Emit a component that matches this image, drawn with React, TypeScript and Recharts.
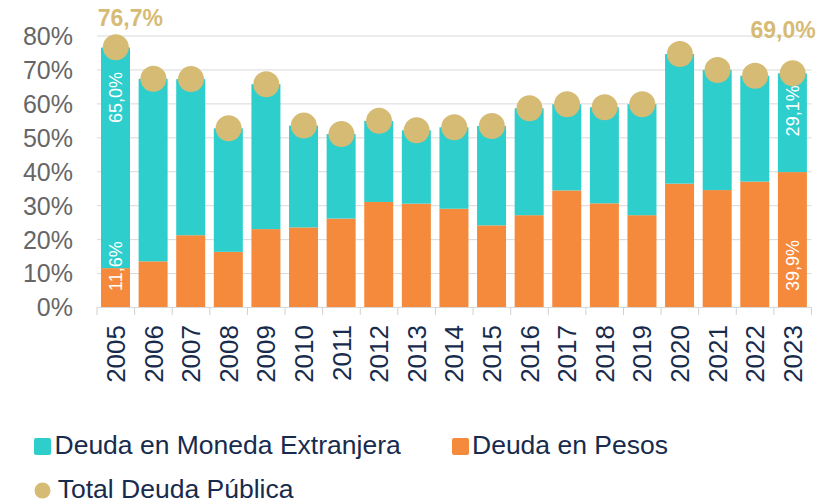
import React from 'react';
import { ComposedChart, Bar, Scatter, XAxis, YAxis, CartesianGrid } from 'recharts';

const years = ['2005','2006','2007','2008','2009','2010','2011','2012','2013','2014','2015','2016','2017','2018','2019','2020','2021','2022','2023'];
const pesos = [11.6, 13.6, 21.3, 16.4, 23.1, 23.6, 26.2, 31.1, 30.6, 29.1, 24.2, 27.2, 34.5, 30.7, 27.2, 36.5, 34.6, 37.1, 39.9];
const foreign = [65.0, 53.8, 46.0, 36.4, 42.7, 30.0, 24.9, 23.9, 21.6, 24.0, 29.3, 31.5, 25.4, 28.3, 32.7, 38.2, 35.4, 31.2, 29.1];
const total = [76.7, 67.4, 67.3, 52.8, 65.8, 53.6, 51.1, 55.0, 52.2, 53.1, 53.5, 58.7, 59.9, 59.0, 59.9, 74.7, 70.0, 68.3, 69.0];
const yTicks = [0, 10, 20, 30, 40, 50, 60, 70, 80];

const seriesNames = {
  foreign: 'Deuda en Moneda Extranjera',
  pesos: 'Deuda en Pesos',
  total: 'Total Deuda Pública',
};

const data = years.map((year, i) => ({ year, pesos: pesos[i], foreign: foreign[i], total: total[i] }));

const TEAL = '#2ECECD';
const ORANGE = '#F58A3C';
const GOLD = '#D6BB74';
const NAVY = '#172B4D';
const GRAY = '#666666';
const FONT = '"Liberation Sans", Arial, sans-serif';

const W = 823;
const H = 408;
const M = { top: 36, right: 19.5, left: 0, bottom: 0 };
const Y_W = 89;
const X_H = 100.5;
const PLOT_BOTTOM = H - M.bottom - X_H;
const BAND = (W - M.left - M.right - Y_W) / years.length;

const fmt = (v: number) => v.toFixed(1).replace('.', ',') + '%';
const isEdge = (year: string) => year === years[0] || year === years[years.length - 1];

const XTick = (props: any) => {
  const { x, payload, index } = props;
  const last = index === years.length - 1;
  return (
    <g>
      <line x1={x - BAND / 2} x2={x - BAND / 2} y1={PLOT_BOTTOM} y2={PLOT_BOTTOM + 7.5} stroke="#d0d0d0" />
      {last && <line x1={x + BAND / 2} x2={x + BAND / 2} y1={PLOT_BOTTOM} y2={PLOT_BOTTOM + 7.5} stroke="#d0d0d0" />}
      <text
        transform={`translate(${x},${PLOT_BOTTOM + 17.5}) rotate(-90)`}
        textAnchor="end"
        dy="0.35em"
        fontSize={26}
        fontFamily={FONT}
        fill={NAVY}
      >
        {payload.value}
      </text>
    </g>
  );
};

const PesosShape = (props: any) => {
  const { x, y, width, height } = props;
  return <rect x={x} y={y} width={width} height={height} fill={ORANGE} />;
};

const ForeignShape = (props: any) => {
  const { x, y, width, height, payload } = props;
  const cx = x + width / 2;
  const off = payload.year === years[0] ? 24.5 : 12;
  return (
    <g>
      <rect x={x} y={y} width={width} height={height} fill={TEAL} />
      {isEdge(payload.year) && (
        <>
          <text
            transform={`translate(${cx},${y + off}) rotate(-90)`}
            textAnchor="end"
            dy="0.35em"
            fontSize={18}
            fontFamily={FONT}
            fill="#ffffff"
          >
            {fmt(payload.foreign)}
          </text>
          <text
            transform={`translate(${cx},${PLOT_BOTTOM - 16.5}) rotate(-90)`}
            textAnchor="start"
            dy="0.35em"
            fontSize={18}
            fontFamily={FONT}
            fill="#ffffff"
          >
            {fmt(payload.pesos)}
          </text>
        </>
      )}
    </g>
  );
};

const DotShape = (props: any) => {
  const { cx, cy, payload } = props;
  const first = payload.year === years[0];
  const last = payload.year === years[years.length - 1];
  return (
    <g>
      <circle cx={cx} cy={cy} r={13} fill={GOLD} />
      {first && (
        <text x={cx + 14.5} y={cy - 20.7} textAnchor="middle" fontSize={23} fontWeight="bold" fontFamily={FONT} fill={GOLD}>
          {fmt(payload.total)}
        </text>
      )}
      {last && (
        <text x={cx - 9.6} y={cy - 35} textAnchor="middle" fontSize={23} fontWeight="bold" fontFamily={FONT} fill={GOLD}>
          {fmt(payload.total)}
        </text>
      )}
    </g>
  );
};

export default function App() {
  return (
    <div style={{ position: 'relative', width: W, height: 504, marginTop: -8, fontFamily: FONT }}>
      <ComposedChart width={W} height={H} data={data} margin={M}>
        <CartesianGrid vertical={false} stroke="#d9d9d9" />
        <XAxis
          dataKey="year"
          height={X_H}
          interval={0}
          tickLine={false}
          axisLine={{ stroke: '#d9d9d9' }}
          tick={<XTick />}
        />
        <YAxis
          width={Y_W}
          domain={[0, 80]}
          ticks={yTicks}
          tickFormatter={(v: number) => `${v}%`}
          axisLine={false}
          tickLine={false}
          tickMargin={18}
          tick={{ fill: GRAY, fontSize: 25, fontFamily: FONT }}
        />
        <Bar dataKey="pesos" stackId="a" barSize={29} fill={ORANGE} shape={<PesosShape />} isAnimationActive={false} />
        <Bar dataKey="foreign" stackId="a" barSize={29} fill={TEAL} shape={<ForeignShape />} isAnimationActive={false} />
        <Scatter dataKey="total" fill={GOLD} shape={<DotShape />} isAnimationActive={false} />
      </ComposedChart>
      <svg width={W} height={504} style={{ position: 'absolute', left: 0, top: 0, pointerEvents: 'none' }}>
        <rect x={26} y={438} width={17} height={17} rx={2} fill={TEAL} />
        <text x={46.5} y={454.3} fontSize={26.5} fontFamily={FONT} fill={NAVY}>{seriesNames.foreign}</text>
        <rect x={444} y={438} width={17} height={17} rx={2} fill={ORANGE} />
        <text x={464} y={454.3} fontSize={26.5} fontFamily={FONT} fill={NAVY}>{seriesNames.pesos}</text>
        <circle cx={34.5} cy={490.5} r={8} fill={GOLD} />
        <text x={49.7} y={498} fontSize={26.5} fontFamily={FONT} fill={NAVY}>{seriesNames.total}</text>
      </svg>
    </div>
  );
}
